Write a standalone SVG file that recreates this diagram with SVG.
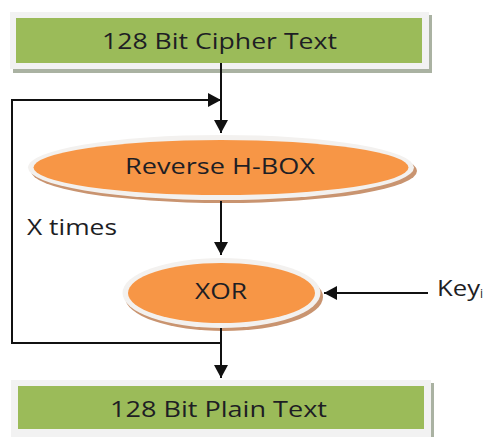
<svg xmlns="http://www.w3.org/2000/svg" width="486" height="437" viewBox="0 0 486 437">
  <style>
    .lbl { font-family: "Open Sans", "Liberation Sans", sans-serif; font-size: 21px; fill: #1e1e24; }
    .frame { fill: #f2f2f2; }
    .fshadow { fill: #aab2a2; }
    .green { fill: #9bbb59; }
    .rim { fill: #f3f1ef; }
    .eshadow { fill: #c99470; }
    .orange { fill: #f79646; }
    .conn { fill: none; stroke: #111; stroke-width: 2; }
  </style>
  <defs>
    <marker id="arrow" markerUnits="userSpaceOnUse" markerWidth="14" markerHeight="14" refX="13" refY="7" orient="auto">
      <path d="M0,0 L13,7 L0,14 z" fill="#111"/>
    </marker>
  </defs>
  <rect width="486" height="437" fill="#ffffff"/>

  <!-- input block -->
  <g id="cipher-text">
    <rect class="fshadow" x="13" y="15" width="419" height="58"/>
    <rect class="frame" x="10" y="12" width="419" height="57"/>
    <rect class="green" x="16" y="18" width="406" height="45"/>
    <text class="lbl" x="102" y="49" textLength="235" lengthAdjust="spacingAndGlyphs">128 Bit Cipher Text</text>
  </g>

  <!-- inverse substitution stage -->
  <g id="reverse-hbox">
    <ellipse class="eshadow" cx="224" cy="171" rx="193" ry="32"/>
    <ellipse class="rim" cx="221" cy="167.5" rx="193" ry="32.5"/>
    <ellipse class="orange" cx="221" cy="167.5" rx="187.5" ry="27.5"/>
    <text class="lbl" x="125" y="174" textLength="190" lengthAdjust="spacingAndGlyphs">Reverse H-BOX</text>
  </g>

  <!-- key mixing stage -->
  <g id="xor">
    <ellipse class="eshadow" cx="224" cy="297" rx="99" ry="34"/>
    <ellipse class="rim" cx="221.5" cy="293" rx="99" ry="35"/>
    <ellipse class="orange" cx="221.5" cy="293" rx="93.5" ry="30"/>
    <text class="lbl" x="195" y="299" textLength="52" lengthAdjust="spacingAndGlyphs">XOR</text>
  </g>

  <!-- output block -->
  <g id="plain-text">
    <rect class="fshadow" x="14" y="383" width="420" height="56"/>
    <rect class="frame" x="11" y="380" width="420" height="57"/>
    <rect class="green" x="18" y="386" width="406" height="43"/>
    <text class="lbl" x="110" y="417" textLength="217" lengthAdjust="spacingAndGlyphs">128 Bit Plain Text</text>
  </g>

  <g id="loop-label">
    <text class="lbl" x="27" y="235" textLength="90" lengthAdjust="spacingAndGlyphs">X times</text>
  </g>

  <g id="key-label">
    <text class="lbl" x="437" y="296" textLength="43" lengthAdjust="spacingAndGlyphs">Key</text>
    <text class="lbl" x="480" y="298" style="font-size:12px">i</text>
  </g>

  <!-- connectors -->
  <g id="connectors">
    <path class="conn" d="M221,63 V133" marker-end="url(#arrow)"/>
    <path class="conn" d="M221,201 V255" marker-end="url(#arrow)"/>
    <path class="conn" d="M221,328 V378" marker-end="url(#arrow)"/>
    <path class="conn" d="M221,343 H12 V100 H221" marker-end="url(#arrow)"/>
    <path class="conn" d="M428,293 H324" marker-end="url(#arrow)"/>
  </g>
</svg>
